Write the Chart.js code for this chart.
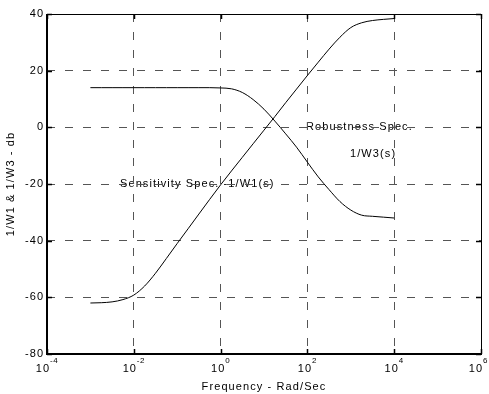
<!DOCTYPE html>
<html><head><meta charset="utf-8">
<script src="https://cdn.jsdelivr.net/npm/chart.js@4.4.1/dist/chart.umd.min.js"></script>
<style>html,body{margin:0;padding:0;background:#fff}#wrap{width:489px;height:394px}canvas{display:block}</style>
</head><body><div id="wrap"><canvas id="c" width="489" height="394"></canvas></div>
<script>
// Frequencies (rad/s) sampled at quarter decades
const frequency = [0.001, 0.00178, 0.00316, 0.00562, 0.01, 0.0178, 0.0316, 0.0562, 0.1, 0.178, 0.316, 0.562,
  1, 1.78, 3.16, 5.62, 10, 17.8, 31.6, 56.2, 100, 178, 316, 562, 1000, 1778, 3162, 5623, 10000];
// Rising curve (dB)
const sensitivitySpec = [-62, -61.9, -61.6, -60.8, -59.2, -56, -51.5, -46.3, -41, -35.8, -30.6, -25.4,
  -20.3, -15.4, -10.6, -5.8, -1, 3.8, 8.7, 13.5, 18.3, 23, 27.6, 31.8, 35.2, 36.9, 37.7, 38.1, 38.4];
// Falling curve (dB)
const robustnessSpec = [14, 14, 14, 14, 14, 14, 14, 14, 14, 14, 14, 14,
  13.9, 13.6, 12.3, 9.8, 6.4, 2.2, -2.3, -7, -12.3, -17.5, -22, -26.2, -29.2, -31, -31.4, -31.7, -32];
const xTickValues = [1e-4, 1e-2, 1, 1e2, 1e4, 1e6];
const yTickValues = [-80, -60, -40, -20, 0, 20, 40];
const xTitle = 'Frequency - Rad/Sec';
const yTitle = '1/W1 & 1/W3 - db';
const notes = [
  {text: 'Sensitivity Spec. -1/W1(s)', x: 120, y: 184},
  {text: 'Robustness Spec.', x: 306, y: 127},
  {text: '1/W3(s)', x: 350, y: 154}
];

const FONT = '"Liberation Sans", Arial, sans-serif';
const toPts = (ys) => frequency.map((f, i) => ({x: f, y: ys[i]}));

const textPlugin = {
  id: 'txt',
  beforeDraw(chart) {
    const ctx = chart.ctx;
    ctx.save();
    ctx.fillStyle = '#000';
    ctx.font = '11px ' + FONT;
    ctx.letterSpacing = '1.1px';
    ctx.textBaseline = 'middle';
    ctx.textAlign = 'left';
    notes.forEach(n => ctx.fillText(n.text, n.x, n.y));
    ctx.restore();
  },
  afterDraw(chart) {
    const ctx = chart.ctx, a = chart.chartArea;
    const xs = chart.scales.x, ys = chart.scales.y;
    ctx.save();
    // box
    ctx.strokeStyle = '#000';
    ctx.lineWidth = 1;
    ctx.beginPath();
    ctx.moveTo(a.left, a.top + 0.5); ctx.lineTo(a.right + 0.5, a.top + 0.5); ctx.lineTo(a.right + 0.5, a.bottom);
    ctx.stroke();
    ctx.lineWidth = 2;
    ctx.beginPath();
    ctx.moveTo(a.left, a.top); ctx.lineTo(a.left, a.bottom); ctx.lineTo(a.right + 1, a.bottom);
    ctx.stroke();
    // inward ticks
    ctx.lineWidth = 1.5;
    ctx.beginPath();
    ys.ticks.forEach(t => {
      const p = Math.round(ys.getPixelForValue(t.value)) + 0.5;
      ctx.moveTo(a.left, p); ctx.lineTo(a.left + 5, p);
      ctx.moveTo(a.right, p); ctx.lineTo(a.right - 5, p);
    });
    xs.ticks.forEach(t => {
      const p = Math.round(xs.getPixelForValue(t.value)) + 0.5;
      ctx.moveTo(p, a.bottom); ctx.lineTo(p, a.bottom - 5);
      ctx.moveTo(p, a.top); ctx.lineTo(p, a.top + 5);
    });
    ctx.stroke();
    // y tick labels
    ctx.fillStyle = '#000';
    ctx.font = '11px ' + FONT;
    ctx.letterSpacing = '1px';
    ctx.textBaseline = 'middle';
    ctx.textAlign = 'right';
    ys.ticks.forEach(t => ctx.fillText(String(t.value), a.left - 3, ys.getPixelForValue(t.value)));
    // x tick labels 10^n
    ctx.textAlign = 'left';
    xs.ticks.forEach(t => {
      const e = String(Math.round(Math.log10(t.value)));
      ctx.font = '11px ' + FONT; ctx.letterSpacing = '1px';
      const wb = ctx.measureText('10').width;
      ctx.font = '8px ' + FONT; ctx.letterSpacing = '0.5px';
      const we = ctx.measureText(e).width;
      const cx = xs.getPixelForValue(t.value);
      const left = Math.min(cx - (wb + we) / 2, chart.width - 1 - (wb + we));
      ctx.font = '11px ' + FONT; ctx.letterSpacing = '1px';
      ctx.fillText('10', left, 369);
      ctx.font = '8px ' + FONT; ctx.letterSpacing = '0.5px';
      ctx.fillText(e, left + wb, 361);
    });
    // titles
    ctx.font = '11px ' + FONT; ctx.letterSpacing = '1.1px';
    ctx.textAlign = 'center';
    ctx.fillText(xTitle, (a.left + a.right) / 2, 387);
    ctx.translate(11, (a.top + a.bottom) / 2);
    ctx.rotate(-Math.PI / 2);
    ctx.fillText(yTitle, 0, 0);
    ctx.restore();
  }
};

const gridColor = (edgeVals) => (c) => (c.tick && edgeVals.includes(c.tick.value)) ? 'rgba(0,0,0,0)' : '#555';

new Chart(document.getElementById('c'), {
  type: 'scatter',
  data: {
    datasets: [
      {label: 'Sensitivity Spec. -1/W1(s)', data: toPts(sensitivitySpec), showLine: true, pointRadius: 0,
       borderColor: '#000', borderWidth: 1, cubicInterpolationMode: 'monotone', fill: false},
      {label: 'Robustness Spec. 1/W3(s)', data: toPts(robustnessSpec), showLine: true, pointRadius: 0,
       borderColor: '#000', borderWidth: 1, cubicInterpolationMode: 'monotone', fill: false}
    ]
  },
  options: {
    responsive: false, animation: false, devicePixelRatio: 1,
    layout: {padding: {top: 14, right: 8, left: 0, bottom: 0}},
    plugins: {legend: {display: false}, tooltip: {enabled: false}},
    scales: {
      x: {
        type: 'logarithmic', min: 1e-4, max: 1e6,
        afterBuildTicks: s => { s.ticks = xTickValues.map(v => ({value: v})); },
        afterFit: s => { s.height = 40; },
        grid: {color: gridColor([1e-4, 1e6]), lineWidth: 1, drawTicks: false},
        border: {display: false, dash: [8, 10]},
        ticks: {color: 'rgba(0,0,0,0)', autoSkip: false, maxRotation: 0, padding: 0, font: {size: 8}, callback: () => ''}
      },
      y: {
        min: -80, max: 40,
        afterBuildTicks: s => { s.ticks = yTickValues.map(v => ({value: v})); },
        afterFit: s => { s.width = 47; },
        grid: {color: gridColor([-80, 40]), lineWidth: 1, drawTicks: false},
        border: {display: false, dash: [8, 10]},
        ticks: {color: 'rgba(0,0,0,0)', padding: 0, font: {size: 8}, callback: () => ''}
      }
    }
  },
  plugins: [textPlugin]
});
</script>
</body></html>
